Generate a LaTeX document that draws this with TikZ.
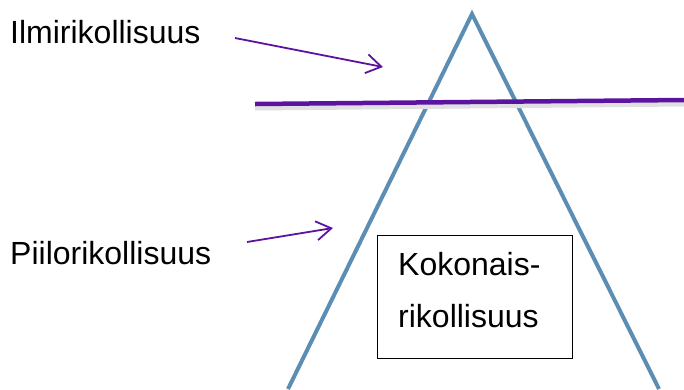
\documentclass[tikz,border=0pt]{standalone}
\usepackage{fontspec}
\setmainfont{Liberation Sans}
\usetikzlibrary{arrows.meta}
\definecolor{purp}{RGB}{92,20,160}
\definecolor{triblue}{RGB}{92,142,180}
\tikzset{
  lbl/.style={font=\fontsize{32}{38}\selectfont, inner sep=0pt, anchor=base west},
  ptr/.style={draw=purp, line width=1.8pt, -{Straight Barb[length=15pt,width=19pt,line width=1.8pt]}},
}
\begin{document}
\begin{tikzpicture}[x=1pt,y=-1pt]
\useasboundingbox (0,0) rectangle (684,389);
% triangle
\coordinate (apex) at (472,14);
\coordinate (bl) at (288,389);
\coordinate (br) at (659,389);
\draw[triblue, line width=4pt, line join=miter] (bl) -- (apex) -- (br);
% horizontal line with shadow
\coordinate (hl) at (255,104);
\coordinate (hr) at (684,100);
\draw[black!12, line width=5pt] ([yshift=-4pt]hl) -- ([yshift=-4pt]hr);
\draw[purp, line width=4.5pt] (hl) -- (hr);
% labels
\node[lbl] (ilmi) at (10,43) {Ilmirikollisuus};
\node[lbl] (piilo) at (10,264) {Piilorikollisuus};
% arrows
\coordinate (a1s) at (235,38);
\coordinate (a1e) at (383,67);
\coordinate (a2s) at (247,242);
\coordinate (a2e) at (333,228);
\draw[ptr] (a1s) -- (a1e);
\draw[ptr] (a2s) -- (a2e);
% box
\node[draw=black, line width=1pt, fill=white, minimum width=195pt, minimum height=123pt, inner sep=0pt, anchor=north west] (box) at (377,235) {};
\node[lbl] (kok1) at (398,275) {Kokonais-};
\node[lbl] (kok2) at (398,327) {rikollisuus};
\end{tikzpicture}
\end{document}
